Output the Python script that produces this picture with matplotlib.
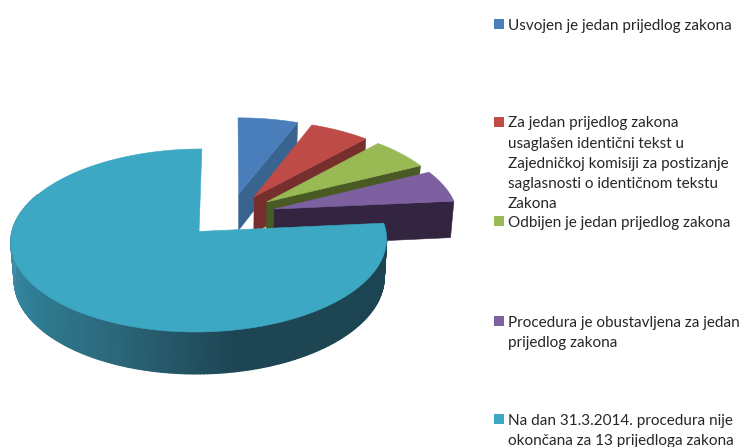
import numpy as np
import matplotlib
matplotlib.use("Agg")
import matplotlib.pyplot as plt
from matplotlib.collections import PolyCollection
from matplotlib.colors import LinearSegmentedColormap
from matplotlib.patches import Polygon, Rectangle

# data
values = [1, 1, 1, 1, 13]
top_colors = ["#4a7ebb", "#be4b48", "#98b954", "#7d60a0", "#3ca8c4"]
side_colors = ["#38648f", "#772f2d", "#4a5a25", "#33243f", "#1d4452"]
legend_lines = [
    ["Usvojen je jedan prijedlog zakona"],
    ["Za jedan prijedlog zakona", "usaglašen identični tekst u",
     "Zajedničkoj komisiji za postizanje", "saglasnosti o identičnom tekstu", "Zakona"],
    ["Odbijen je jedan prijedlog zakona"],
    ["Procedura je obustavljena za jedan", "prijedlog zakona"],
    ["Na dan 31.3.2014. procedura nije", "okončana za 13 prijedloga zakona"],
]
legend_first_y = [25, 122.5, 222, 321.5, 419.5]

# layout of the projected pie
CX, CY, RX, RY, PERSP, EXPLODE, DEPTH, SHRINK = 230.5, 215.0, 183.5, 87.4, 0.097, 0.25, 37.0, 0.985

fig = plt.figure(figsize=(7.44, 4.47), dpi=100, facecolor="white")
ax = fig.add_axes([0, 0, 1, 1])
ax.set_xlim(0, 744)
ax.set_ylim(447, 0)
ax.axis("off")


def project(u, v, lower=False):
    w = 1 + PERSP * v
    x = CX + RX * u / w
    y = CY - RY * v / w
    if lower:
        x = CX + (x - CX) * SHRINK
        y = y + DEPTH / w
    return np.column_stack([x, y])


angles = np.cumsum([0] + values) / sum(values) * 2 * np.pi
rim_cmap = LinearSegmentedColormap.from_list(
    "rim", [(0, "#1c4451"), (0.40, "#1d4553"), (0.58, "#2d6a7e"),
            (0.74, "#2f7f96"), (0.9, "#448fa8"), (1, "#4d9ab2")])

for i in range(len(values)):
    a0, a1 = angles[i], angles[i + 1]
    mid = (a0 + a1) / 2
    ou, ov = EXPLODE * np.sin(mid), EXPLODE * np.cos(mid)
    t = np.linspace(a0, a1, max(int(np.degrees(a1 - a0)), 8) + 1)
    au = ou + np.sin(t)
    av = ov + np.cos(t)
    top_pts = np.vstack([project(np.array([ou]), np.array([ov])), project(au, av)])

    if i < 4:
        # the cut wall on the right of an exploded slice
        edge_u = np.array([ou, ou + np.sin(a1)])
        edge_v = np.array([ov, ov + np.cos(a1)])
        hi = project(edge_u, edge_v)
        lo = project(edge_u, edge_v, lower=True)
        wall = np.vstack([hi, lo[::-1]])
        ax.add_patch(Polygon(wall, closed=True, fc=side_colors[i], ec=side_colors[i], lw=0.4, zorder=i * 2 + 1))
    else:
        # outer rim with its shading
        vis = t <= np.radians(295)
        hi = project(au[vis], av[vis])
        lo = project(au[vis], av[vis], lower=True)
        quads = [np.vstack([hi[k], hi[k + 1], lo[k + 1], lo[k]]) for k in range(len(hi) - 1)]
        fr = np.linspace(0, 1, len(quads))
        cols = rim_cmap(fr)
        ax.add_collection(PolyCollection(quads, facecolors=cols, edgecolors=cols, linewidths=1.0, zorder=i * 2 + 1))

    ax.add_patch(Polygon(top_pts, closed=True, fc=top_colors[i], ec=top_colors[i], lw=0.4, zorder=i * 2 + 2))

# legend
for i, lines in enumerate(legend_lines):
    y0 = legend_first_y[i]
    ax.add_patch(Rectangle((494, y0 - 6), 10, 10, fc=top_colors[i], ec="none", zorder=20))
    for j, line in enumerate(lines):
        ax.text(508, y0 + 1 + j * 20.2, line, family="Lato", fontsize=11.0, color="#262626",
                va="center", ha="left", zorder=21)

fig.savefig("out.png", dpi=100)
